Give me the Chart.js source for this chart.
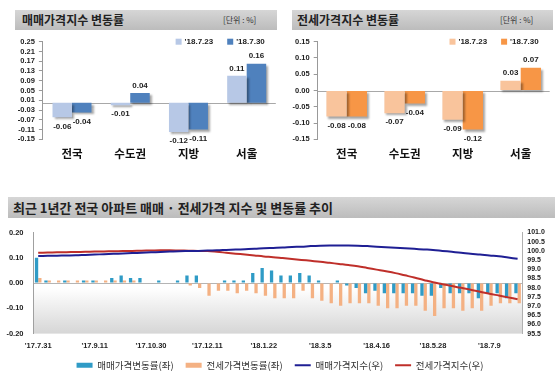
<!DOCTYPE html>
<html>
<head>
<meta charset="utf-8">
<script src="https://cdn.jsdelivr.net/npm/chart.js@4.4.0/dist/chart.umd.min.js"></script>
<style>
  body { margin: 0; background: #fff; }
  #page { position: relative; width: 560px; height: 377px; overflow: hidden; font-family: 'Noto Sans CJK KR', sans-serif; }
  .head { position: absolute; background: linear-gradient(#d6d6d6, #bcbcbc); color: #222; }
  .head .t { position: absolute; top: 0; font-weight: bold; white-space: nowrap; }
  .head .u { position: absolute; top: 0; font-size: 8px; line-height: 20px; color: #333; white-space: nowrap; }
  .box { position: absolute; }
</style>
</head>
<body>
<div id="page">
  <div class="head" style="left:15px;top:10px;width:262px;height:20px;">
    <span class="t" style="left:7px;font-size:12px;line-height:20px;">매매가격지수 변동률</span>
    <span class="u" style="left:208px;">[단위 : %]</span>
  </div>
  <div class="head" style="left:292px;top:10px;width:261px;height:20px;">
    <span class="t" style="left:5px;font-size:12px;line-height:20px;">전세가격지수 변동률</span>
    <span class="u" style="left:208px;">[단위 : %]</span>
  </div>
  <div class="head" style="left:8px;top:197px;width:547px;height:21px;">
    <span class="t" style="left:5px;font-size:13px;line-height:21px;">최근 1년간 전국 아파트 매매 · 전세가격 지수 및 변동률 추이</span>
  </div>
  <div class="box" style="left:0;top:32px;width:280px;height:135px;"><canvas id="saleChart"></canvas></div>
  <div class="box" style="left:280px;top:32px;width:280px;height:135px;"><canvas id="jeonseChart"></canvas></div>
  <div class="box" style="left:0;top:218px;width:560px;height:162px;"><canvas id="trendChart"></canvas></div>
</div>
<script>
// top panels
const regions = ['전국', '수도권', '지방', '서울'];
const weekNames = ["'18.7.23", "'18.7.30"];
const saleJul23 = [-0.06, -0.01, -0.12, 0.11];
const saleJul30 = [-0.04, 0.04, -0.11, 0.16];
const jeonseJul23 = [-0.08, -0.07, -0.09, 0.03];
const jeonseJul30 = [-0.08, -0.04, -0.12, 0.07];
const saleTicks = [-0.15, -0.11, -0.07, -0.03, 0.01, 0.05, 0.09, 0.13, 0.17, 0.21, 0.25];
const jeonseTicks = [-0.15, -0.10, -0.05, 0.00, 0.05, 0.10, 0.15];

// bottom panel
const weeks = ["'17.7.31", "'17.8.7", "'17.8.14", "'17.8.21", "'17.8.28", "'17.9.4", "'17.9.11", "'17.9.18", "'17.9.25",
  "'17.10.9", "'17.10.16", "'17.10.23", "'17.10.30", "'17.11.6", "'17.11.13", "'17.11.20", "'17.11.27", "'17.12.4",
  "'17.12.11", "'17.12.18", "'17.12.25", "'18.1.1", "'18.1.8", "'18.1.15", "'18.1.22", "'18.1.29", "'18.2.5",
  "'18.2.12", "'18.2.19", "'18.2.26", "'18.3.5", "'18.3.12", "'18.3.19", "'18.3.26", "'18.4.2", "'18.4.9",
  "'18.4.16", "'18.4.23", "'18.4.30", "'18.5.7", "'18.5.14", "'18.5.21", "'18.5.28", "'18.6.4", "'18.6.11",
  "'18.6.18", "'18.6.25", "'18.7.2", "'18.7.9", "'18.7.16", "'18.7.23", "'18.7.30"];
const shownWeeks = ["'17.7.31", "'17.9.11", "'17.10.30", "'17.12.11", "'18.1.22", "'18.3.5", "'18.4.16", "'18.5.28", "'18.7.9"];
const saleWeekly = [0.10, 0.01, 0.00, 0.01, 0.00, 0.01, 0.01, 0.00, 0.02, 0.03,
  0.02, 0.02, 0.00, 0.01, 0.00, 0.01, 0.03, 0.03, 0.00, 0.00,
  0.01, 0.01, 0.01, 0.04, 0.06, 0.05, 0.03, 0.03, 0.04, 0.03,
  0.01, 0.00, 0.01, -0.01, -0.02, -0.04, -0.03, -0.04, -0.04, -0.04,
  -0.04, -0.05, -0.05, -0.02, -0.04, -0.04, -0.04, -0.06, -0.04, -0.04,
  -0.06, -0.04];
const jeonseWeekly = [0.02, 0.01, 0.01, 0.01, 0.01, 0.01, 0.01, 0.01, 0.01, 0.01,
  0.01, 0.00, 0.00, 0.00, 0.00, 0.00, -0.01, -0.02, -0.05, -0.03,
  -0.03, -0.04, -0.03, -0.04, -0.05, -0.06, -0.06, -0.06, -0.03, -0.06,
  -0.07, -0.08, -0.09, -0.08, -0.08, -0.08, -0.09, -0.10, -0.10, -0.09,
  -0.09, -0.11, -0.13, -0.10, -0.10, -0.11, -0.10, -0.11, -0.09, -0.08,
  -0.08, -0.08];
const saleIndex = [99.72, 99.73, 99.74, 99.75, 99.76, 99.78, 99.80, 99.82, 99.84, 99.86,
  99.88, 99.90, 99.92, 99.94, 99.96, 99.98, 99.99, 100.00, 100.02, 100.03,
  100.05, 100.07, 100.09, 100.11, 100.14, 100.16, 100.18, 100.21, 100.23, 100.26,
  100.28, 100.29, 100.29, 100.29, 100.28, 100.26, 100.23, 100.20, 100.17, 100.14,
  100.11, 100.08, 100.05, 100.00, 99.95, 99.90, 99.84, 99.80, 99.75, 99.71,
  99.64, 99.57];
const jeonseIndex = [99.90, 99.91, 99.92, 99.93, 99.94, 99.95, 99.96, 99.97, 99.98, 99.99,
  100.00, 100.01, 100.02, 100.03, 100.03, 100.02, 100.01, 100.00, 99.99, 99.95,
  99.90, 99.85, 99.80, 99.75, 99.70, 99.66, 99.61, 99.56, 99.51, 99.46,
  99.41, 99.35, 99.29, 99.23, 99.16, 99.07, 98.98, 98.89, 98.79, 98.67,
  98.55, 98.42, 98.29, 98.19, 98.09, 97.99, 97.88, 97.78, 97.67, 97.57,
  97.47, 97.37];
const seriesNames = ['매매가격변동률(좌)', '전세가격변동률(좌)', '매매가격지수(우)', '전세가격지수(우)'];
const rateTicks = [-0.2, -0.1, 0.0, 0.1, 0.2];
const indexTicks = [95.5, 96.0, 96.5, 97.0, 97.5, 98.0, 98.5, 99.0, 99.5, 100.0, 100.5, 101.0];

const KR = "'Noto Sans CJK KR', sans-serif";
const NUM = "'Liberation Sans', Arial, sans-serif";

// zero line, bar shadow, value labels and small legend for the top charts
const barDecor = {
    id: 'barDecor',
    beforeDatasetsDraw(chart) {
        const { ctx, chartArea: a, scales: { y } } = chart;
        const y0 = Math.round(y.getPixelForValue(0)) + 0.5;
        ctx.save();
        ctx.strokeStyle = '#a8a8a8';
        ctx.lineWidth = 1;
        ctx.beginPath();
        ctx.moveTo(a.left, y0);
        ctx.lineTo(a.right, y0);
        ctx.stroke();
        ctx.restore();
        ctx.save();
        ctx.shadowColor = 'rgba(0,0,0,0.35)';
        ctx.shadowOffsetX = 2;
        ctx.shadowOffsetY = 2;
        ctx.shadowBlur = 2;
    },
    afterDatasetsDraw(chart) {
        const ctx = chart.ctx;
        ctx.restore();
        ctx.save();
        ctx.font = 'bold 8px ' + NUM;
        ctx.fillStyle = '#222';
        ctx.textAlign = 'center';
        ctx.textBaseline = 'middle';
        chart.data.datasets.forEach((ds, i) => {
            chart.getDatasetMeta(i).data.forEach((el, j) => {
                const v = ds.data[j];
                ctx.fillText(v.toFixed(2), el.x, v < 0 ? el.y + 9 : el.y - 7.5);
            });
        });
        // legend inside the plot, right aligned
        const a = chart.chartArea;
        const items = chart.data.datasets.map(ds => ({ text: ds.label, color: ds.backgroundColor, w: ctx.measureText(ds.label).width }));
        const total = items.reduce((s, it) => s + 10 + it.w, 0) + 13 * (items.length - 1);
        let x = a.right - 10 - total;
        ctx.textAlign = 'left';
        items.forEach(it => {
            ctx.fillStyle = it.color;
            ctx.fillRect(x, a.top - 3, 6, 6);
            ctx.fillStyle = '#222';
            ctx.fillText(it.text, x + 9, a.top);
            x += 10 + it.w + 13;
        });
        ctx.restore();
    }
};

function makeTopChart(id, light, dark, ticks, colors, axisWidth, rightPad, catPct) {
    return new Chart(document.getElementById(id), {
        type: 'bar',
        data: {
            labels: regions,
            datasets: [
                { label: weekNames[0], data: light, backgroundColor: colors[0] },
                { label: weekNames[1], data: dark, backgroundColor: colors[1] }
            ]
        },
        options: {
            responsive: true,
            maintainAspectRatio: false,
            animation: false,
            layout: { padding: { top: 9.7, right: rightPad, left: 0, bottom: 0 } },
            datasets: { bar: { categoryPercentage: catPct, barPercentage: 1 } },
            plugins: { legend: { display: false }, tooltip: { enabled: false } },
            scales: {
                x: {
                    grid: { display: false, drawTicks: false },
                    border: { display: false },
                    ticks: { padding: 7, color: '#111', font: { family: KR, size: 11.5, weight: 'bold' } },
                    afterFit: s => { s.height = 27.7; }
                },
                y: {
                    min: ticks[0],
                    max: ticks[ticks.length - 1],
                    afterBuildTicks: s => { s.ticks = ticks.map(v => ({ value: v })); },
                    grid: { drawOnChartArea: false, tickLength: 4, color: '#999' },
                    border: { color: '#999' },
                    ticks: { autoSkip: false, padding: 4, color: '#222', font: { family: NUM, size: 7.5, weight: 'bold' }, callback: v => v.toFixed(2) },
                    afterFit: s => { s.width = axisWidth; }
                }
            }
        },
        plugins: [barDecor]
    });
}

makeTopChart('saleChart', saleJul23, saleJul30, saleTicks, ['#b7c8e6', '#4f81bd'], 42.9, 4.2, 0.67);
makeTopChart('jeonseChart', jeonseJul23, jeonseJul30, jeonseTicks, ['#f9c49c', '#f79646'], 37.7, 10.3, 0.7);

// grey fade at the bottom of the plot area
const plotShade = {
    id: 'plotShade',
    beforeDraw(chart) {
        const { ctx, chartArea: a } = chart;
        const g = ctx.createLinearGradient(0, a.top, 0, a.bottom);
        g.addColorStop(0, '#ffffff');
        g.addColorStop(0.55, '#ffffff');
        g.addColorStop(1, '#d6d6d6');
        ctx.save();
        ctx.fillStyle = g;
        ctx.fillRect(a.left, a.top, a.right - a.left, a.bottom - a.top);
        ctx.restore();
    }
};

new Chart(document.getElementById('trendChart'), {
    data: {
        labels: weeks,
        datasets: [
            { type: 'bar', label: seriesNames[0], data: saleWeekly, backgroundColor: '#2f9bc6', pointStyle: 'rect', order: 2 },
            { type: 'bar', label: seriesNames[1], data: jeonseWeekly, backgroundColor: '#f4b183', pointStyle: 'rect', order: 2 },
            { type: 'line', label: seriesNames[2], data: saleIndex, yAxisID: 'y1', borderColor: '#1f1f94', backgroundColor: '#1f1f94',
              borderWidth: 2, pointRadius: 0, pointStyle: 'line', tension: 0.4, order: 1 },
            { type: 'line', label: seriesNames[3], data: jeonseIndex, yAxisID: 'y1', borderColor: '#bf2f2a', backgroundColor: '#bf2f2a',
              borderWidth: 2, pointRadius: 0, pointStyle: 'line', tension: 0.4, order: 1 }
        ]
    },
    options: {
        responsive: true,
        maintainAspectRatio: false,
        animation: false,
        layout: { padding: { top: 8, left: 0, right: 0, bottom: 0 } },
        datasets: { bar: { categoryPercentage: 0.7, barPercentage: 1 } },
        plugins: {
            tooltip: { enabled: false },
            legend: {
                position: 'bottom',
                labels: {
                    sort: (a, b) => a.datasetIndex - b.datasetIndex,
                    usePointStyle: true, pointStyleWidth: 16, boxWidth: 16, boxHeight: 5,
                    padding: 12, color: '#333', font: { family: KR, size: 9.5 }
                }
            }
        },
        scales: {
            x: {
                grid: { display: false, drawTicks: false },
                border: { display: false },
                ticks: {
                    autoSkip: false, maxRotation: 0, padding: 7.5, color: '#222',
                    font: { family: NUM, size: 7.5, weight: 'bold' },
                    callback: (v, i) => shownWeeks.includes(weeks[i]) ? weeks[i] : ''
                },
                afterFit: s => { s.height = 14.9; }
            },
            y: {
                position: 'left',
                min: rateTicks[0],
                max: rateTicks[rateTicks.length - 1],
                afterBuildTicks: s => { s.ticks = rateTicks.map(v => ({ value: v })); },
                grid: { drawTicks: false, color: c => (c.tick && c.tick.value === 0) ? '#b4b4b4' : 'rgba(0,0,0,0)' },
                border: { color: '#a0a0a0' },
                ticks: { autoSkip: false, padding: 10, color: '#222', font: { family: NUM, size: 7.5, weight: 'bold' }, callback: v => v.toFixed(2) },
                afterFit: s => { s.width = 33.5; }
            },
            y1: {
                position: 'right',
                min: indexTicks[0],
                max: indexTicks[indexTicks.length - 1],
                afterBuildTicks: s => { s.ticks = indexTicks.map(v => ({ value: v })); },
                grid: { drawOnChartArea: false, drawTicks: false },
                border: { color: '#b0b0b0' },
                ticks: { autoSkip: false, padding: 5, color: '#222', font: { family: NUM, size: 7, weight: 'bold' }, callback: v => v.toFixed(1) },
                afterFit: s => { s.width = 37.7; }
            }
        }
    },
    plugins: [plotShade]
});
</script>
</body>
</html>
